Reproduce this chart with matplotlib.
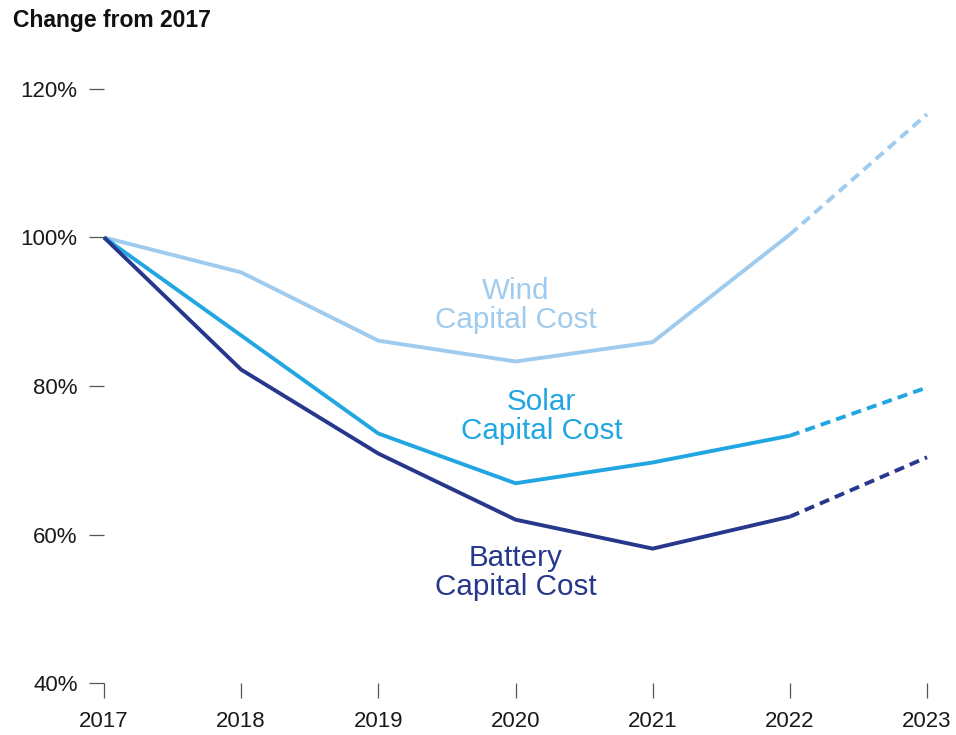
import matplotlib
matplotlib.use("Agg")
import matplotlib.pyplot as plt

plt.rcParams['font.family'] = ['Liberation Sans', 'DejaVu Sans']

years = [2017, 2018, 2019, 2020, 2021, 2022, 2023]
wind = [100, 95.3, 86.1, 83.3, 85.9, 100.4, 116.6]
solar = [100, 86.8, 73.6, 66.9, 69.7, 73.3, 79.8]
battery = [100, 82.2, 70.9, 62.0, 58.1, 62.4, 70.4]
n_actual = 6  # 2017-2022 reported, 2023 projected (dashed)

y_ticks = [40, 60, 80, 100, 120]
y_labels = ['40%', '60%', '80%', '100%', '120%']

series = [
    (wind, '#9fcbee', 'Wind\nCapital Cost', 2020.0, 90.8),
    (solar, '#22a6e2', 'Solar\nCapital Cost', 2020.19, 75.9),
    (battery, '#27388c', 'Battery\nCapital Cost', 2020.0, 54.9),
]

fig = plt.figure(figsize=(9.56, 7.35), dpi=100)
ax = fig.add_axes([0.1088, 0.0707, 0.8609, 0.8083])

lw = 2.8
for vals, col, label, lx, ly in series:
    ax.plot(years[:n_actual], vals[:n_actual], color=col, lw=lw,
            solid_capstyle='butt', solid_joinstyle='miter', clip_on=False)
    ax.plot(years[n_actual - 1:], vals[n_actual - 1:], color=col, lw=lw,
            linestyle=(0, (2.6, 1.6)), dash_capstyle='butt', clip_on=False)
    ax.text(lx, ly, label, color=col, fontsize=21.3, ha='center', va='center',
            linespacing=1.05)

ax.set_xlim(2017, 2023)
ax.set_ylim(40, 120)
ax.set_xticks(years)
ax.set_xticklabels([str(y) for y in years])
ax.set_yticks(y_ticks)
ax.set_yticklabels(y_labels)
for s in ax.spines.values():
    s.set_visible(False)
ax.tick_params(axis='both', direction='out', length=11, width=0.9,
               color='#555555', labelsize=16, labelcolor='#1a1a1a')
ax.tick_params(axis='y', pad=8)
ax.tick_params(axis='x', pad=9)

fig.text(0.0136, 0.963, 'Change from 2017', fontsize=16.5, fontweight='bold',
         color='#111111', ha='left', va='baseline')

fig.savefig('out.png', dpi=100, facecolor='white')
